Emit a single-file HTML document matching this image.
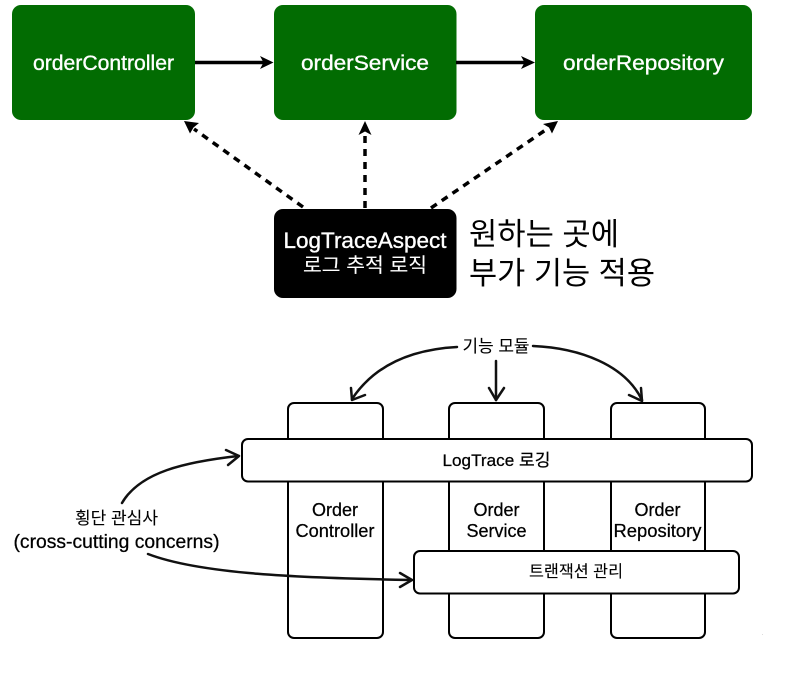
<!DOCTYPE html>
<html><head><meta charset="utf-8"><style>
html,body{margin:0;padding:0;background:#fff}
svg{display:block;filter:blur(0.35px)}
text{font-family:"Liberation Sans","Noto Sans CJK KR",sans-serif}
</style></head><body>
<svg width="791" height="679" viewBox="0 0 791 679" xmlns="http://www.w3.org/2000/svg">
<rect width="791" height="679" fill="#fff"/>
<!-- Top boxes -->
<g fill="#026c02">
<rect x="12" y="5" width="183" height="115" rx="9"/>
<rect x="274" y="5" width="182.500" height="115" rx="9"/>
<rect x="535" y="5" width="217" height="115" rx="9"/>
</g>
<rect x="274" y="209" width="182.500" height="89" rx="9" fill="#000"/>
<g fill="#fff" stroke="#fff" stroke-width="0.35" text-anchor="middle" font-size="21">
<text x="103.500" y="70" textLength="141" lengthAdjust="spacingAndGlyphs">orderController</text>
<text x="365" y="70" textLength="128" lengthAdjust="spacingAndGlyphs">orderService</text>
<text x="643.500" y="70" textLength="161" lengthAdjust="spacingAndGlyphs">orderRepository</text>
<text x="365" y="248" font-size="22" textLength="163" lengthAdjust="spacingAndGlyphs">LogTraceAspect</text>
<text x="365" y="272" font-size="20" stroke-width="0.1" textLength="124" lengthAdjust="spacingAndGlyphs">로그 추적 로직</text>
</g>
<g fill="#000" font-size="31">
<text x="469" y="245" textLength="150" lengthAdjust="spacingAndGlyphs">원하는 곳에</text>
<text x="469" y="284" textLength="186" lengthAdjust="spacingAndGlyphs">부가 기능 적용</text>
</g>
<!-- Top arrows -->
<g stroke="#000" stroke-width="3.500" fill="none">
<line x1="195" y1="62.500" x2="264" y2="62.500"/>
<line x1="456" y1="62.500" x2="526" y2="62.500"/>
<g stroke-dasharray="7 6">
<line x1="303" y1="207" x2="194" y2="129"/>
<line x1="365" y1="208" x2="365" y2="133"/>
<line x1="431" y1="208" x2="547" y2="129"/>
</g>
</g>
<g fill="#000">
<path d="M273.500 62.500 L260 56 L263.500 62.500 L260 69 Z"/>
<path d="M535 62.500 L521 56 L524.500 62.500 L521 69 Z"/>
<path d="M184 121 L199 123 L193.500 127.500 L190 133.500 Z"/>
<path d="M365 121 L371.500 135 L365 131.500 L358.500 135 Z"/>
<path d="M558 121 L552 133.500 L549 127.500 L543 124 Z"/>
</g>
<!-- Columns -->
<g fill="#fff" stroke="#000" stroke-width="2">
<rect x="288" y="403" width="95" height="235" rx="6"/>
<rect x="449" y="403" width="95" height="235" rx="6"/>
<rect x="611" y="403" width="94" height="235" rx="6"/>
<rect x="242" y="439" width="510" height="42.500" rx="6"/>
<rect x="414" y="551" width="325" height="42.500" rx="6"/>
</g>
<g fill="#000" stroke="#000" stroke-width="0.25" text-anchor="middle" font-size="18">
<text x="335" y="516" textLength="46" lengthAdjust="spacingAndGlyphs">Order</text>
<text x="335" y="537" textLength="79" lengthAdjust="spacingAndGlyphs">Controller</text>
<text x="496.500" y="516" textLength="46" lengthAdjust="spacingAndGlyphs">Order</text>
<text x="496.500" y="537" textLength="60" lengthAdjust="spacingAndGlyphs">Service</text>
<text x="657.500" y="516" textLength="46" lengthAdjust="spacingAndGlyphs">Order</text>
<text x="657.500" y="537" textLength="88" lengthAdjust="spacingAndGlyphs">Repository</text>
<text x="496.500" y="466" font-size="17" textLength="108" lengthAdjust="spacingAndGlyphs">LogTrace 로깅</text>
<text x="576" y="577" font-size="16.500" stroke-width="0.1" textLength="94" lengthAdjust="spacingAndGlyphs">트랜잭션 관리</text>
<text x="496" y="352" font-size="17" stroke-width="0.1" textLength="67" lengthAdjust="spacingAndGlyphs">기능 모듈</text>
<text x="116.500" y="524" font-size="17" stroke-width="0.1" textLength="83" lengthAdjust="spacingAndGlyphs">횡단 관심사</text>
<text x="116.500" y="548" font-size="19" textLength="206" lengthAdjust="spacingAndGlyphs">(cross-cutting concerns)</text>
</g>
<!-- Hand-drawn arrows -->
<g stroke="#111" stroke-width="2.500" fill="none" stroke-linecap="round">
<path d="M457 347 C420 349 378 360 352 399"/>
<path d="M496 361 L496 400"/>
<path d="M533 346 C580 348 625 365 642 400"/>
<path d="M122 503 C140 472 185 462 238 456"/>
<path d="M148 554 C200 574 300 578 412 580"/>
<path d="M352 400 L351 388 M352 400 L365 395"/>
<path d="M496 400 L489 388 M496 400 L504 388"/>
<path d="M642 401 L629 395 M642 401 L641 388"/>
<path d="M239 456 L226 450 M239 456 L228 465"/>
<path d="M412 580 L400 573 M412 580 L400 587"/>
</g>
<rect x="762" y="634" width="1" height="1" fill="#ddd"/>
</svg>
</body></html>
